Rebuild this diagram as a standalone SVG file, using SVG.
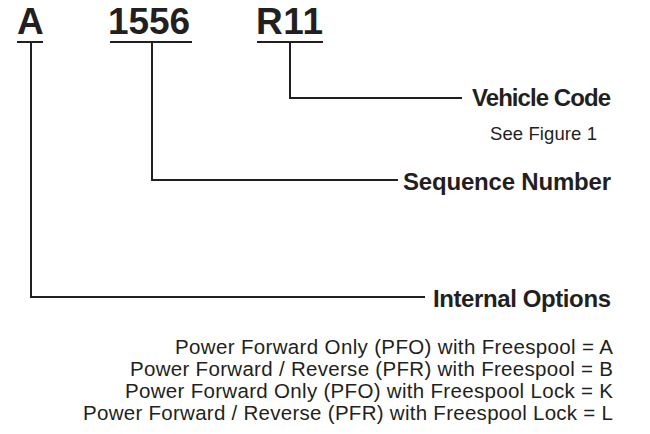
<svg xmlns="http://www.w3.org/2000/svg" width="650" height="434" viewBox="0 0 650 434">
<style>
.code{font-family:"Liberation Sans",Arial,sans-serif;font-weight:bold;font-size:37px;fill:#231f20}
.lbl{font-family:"Liberation Sans",Arial,sans-serif;font-weight:bold;font-size:24px;fill:#231f20}
.sub{font-family:"Liberation Sans",Arial,sans-serif;font-size:18.5px;fill:#231f20}
.opt{font-family:"Liberation Sans",Arial,sans-serif;font-size:20.5px;fill:#231f20;text-anchor:end}
.ln{fill:none;stroke:#231f20;stroke-width:2}
</style>
<rect width="650" height="434" fill="#fff"/>
<g id="node-a">
<text class="code" x="17" y="34" textLength="25">A</text>
<line class="ln" x1="17" y1="42" x2="43" y2="42"/>
</g>
<g id="node-1556">
<text class="code" x="108" y="34" textLength="82">1556</text>
<line class="ln" x1="110" y1="42" x2="192" y2="42"/>
</g>
<g id="node-r11">
<text class="code" x="256" y="34" textLength="67">R11</text>
<line class="ln" x1="257" y1="42" x2="323" y2="42"/>
</g>
<g id="connectors">
<polyline class="ln" points="31,42 31,297 425,297"/>
<polyline class="ln" points="152,42 152,180 398,180"/>
<polyline class="ln" points="290,42 290,98 462,98"/>
</g>
<g id="vehicle-code">
<text class="lbl" x="472" y="106" textLength="139">Vehicle Code</text>
<text class="sub" x="490" y="140" textLength="107">See Figure 1</text>
</g>
<g id="sequence-number">
<text class="lbl" x="403" y="190" textLength="208">Sequence Number</text>
</g>
<g id="internal-options">
<text class="lbl" x="433" y="307" textLength="178">Internal Options</text>
<text class="opt" x="613" y="354" textLength="438">Power Forward Only (PFO) with Freespool = A</text>
<text class="opt" x="613" y="376" textLength="483">Power Forward / Reverse (PFR) with Freespool = B</text>
<text class="opt" x="613" y="398" textLength="488">Power Forward Only (PFO) with Freespool Lock = K</text>
<text class="opt" x="613" y="420" textLength="530">Power Forward / Reverse (PFR) with Freespool Lock = L</text>
</g>
</svg>
